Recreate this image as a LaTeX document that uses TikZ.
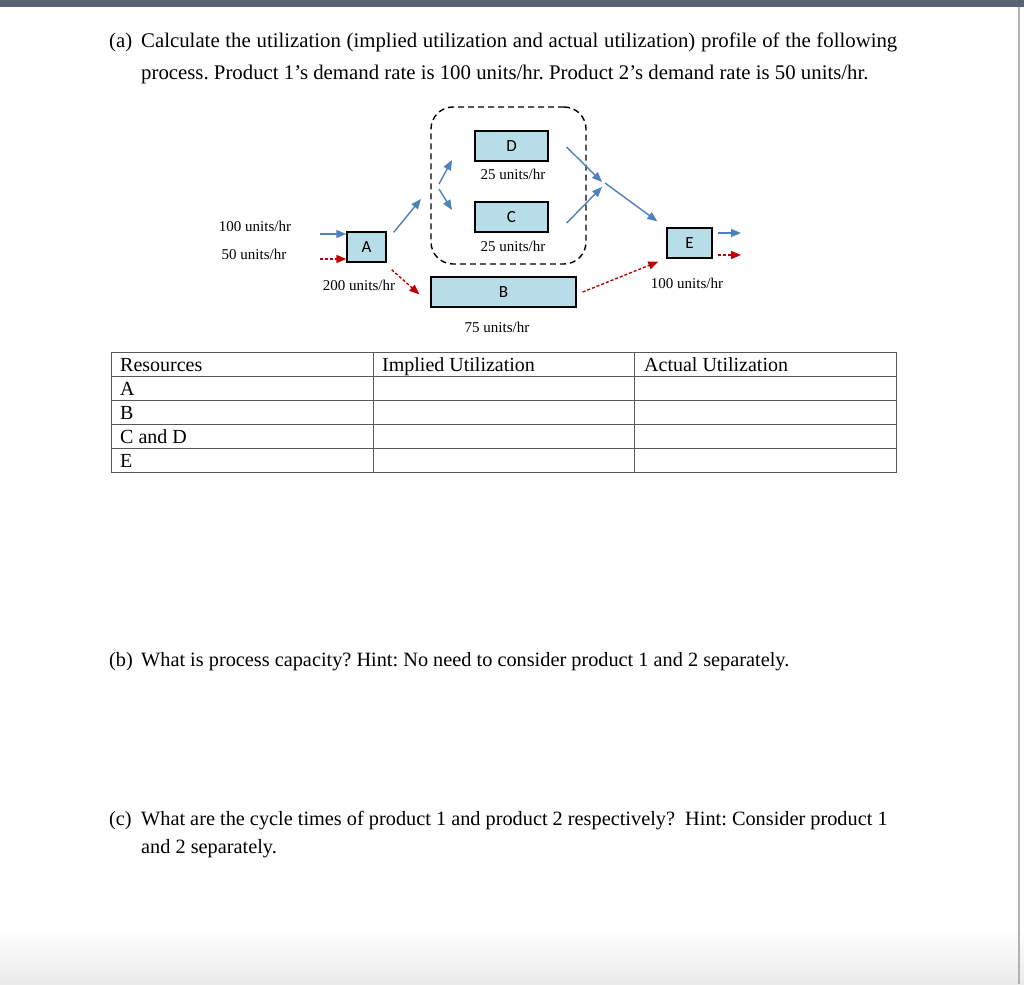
\documentclass[tikz,border=0pt]{standalone}
\usepackage{fontspec}
\setmainfont{Liberation Serif}
\newfontfamily\boxfont{Carlito}
\usetikzlibrary{arrows.meta,calc}
\definecolor{boxblue}{RGB}{183,221,232}
\definecolor{flowblue}{RGB}{79,129,189}
\definecolor{flowred}{RGB}{192,0,0}
\definecolor{barslate}{RGB}{88,100,116}
\frenchspacing
\newcommand{\bodysize}{\fontsize{20.8}{24}\selectfont}
\newcommand{\qsize}{\fontsize{20.3}{24}\selectfont}
\newcommand{\tabsize}{\fontsize{20}{24}\selectfont}
\newcommand{\ratesize}{\fontsize{15}{18}\selectfont}

\begin{document}
\begin{tikzpicture}[x=1pt,y=-1pt,
  stationbox/.style={draw, line width=1.3pt, fill=boxblue, inner sep=0pt,
    minimum height=30pt, font=\boxfont\fontsize{17}{18}\selectfont},
  groupbox/.style={draw, line width=1.4pt, dash pattern=on 6pt off 4pt,
    rounded corners=22pt, minimum width=155pt, minimum height=157pt},
  rate/.style={font=\ratesize, inner sep=0pt},
  body/.style={font=\bodysize, anchor=base west, inner sep=0pt},
  cell/.style={font=\tabsize, anchor=base west, inner sep=0pt},
  tableline/.style={draw=black!65, line width=1pt},
  flowone/.style={draw=flowblue, line width=1.4pt, -{Triangle[length=10pt,width=8pt]}},
  flowtwo/.style={draw=flowred, line width=1.4pt, dash pattern=on 3pt off 2pt,
    -{Triangle[length=10pt,width=8pt]}}]
\useasboundingbox (0,0) rectangle (1024,984);
\fill[white] (0,0) rectangle (1024,984);
\shade[top color=white, bottom color=black!8] (0,930) rectangle (1024,984);
\fill[barslate] (0,0) rectangle (1024,7);
\draw[black!30, line width=2pt] (1019,7) -- (1019,984);

\node[body] (qa) at (109,48) {(a)};
\node[body] (qa1) at (141,48) {\makebox[756pt][s]{Calculate the utilization (implied utilization and actual utilization) profile of the following}};
\node[body] (qa2) at (141,80) {process. Product 1's demand rate is 100 units/hr. Product 2's demand rate is 50 units/hr.};

\node[groupbox] (grp) at (508.5,185.5) {};
\node[stationbox, minimum width=39pt] (A) at (366.5,247) {A};
\node[stationbox, minimum width=73pt] (D) at (511.5,146) {D};
\node[stationbox, minimum width=73pt] (C) at (511.5,217) {C};
\node[stationbox, minimum width=145pt] (B) at (503.5,292) {B};
\node[stationbox, minimum width=45pt] (E) at (689.5,243) {E};

\node[rate] (rin1) at (255,226) {100 units/hr};
\node[rate] (rin2) at (254,254) {50 units/hr};
\node[rate] (rA) at (359,285) {200 units/hr};
\node[rate] (rD) at (513,174) {25 units/hr};
\node[rate] (rC) at (513,246) {25 units/hr};
\node[rate] (rB) at (497,327) {75 units/hr};
\node[rate] (rE) at (687,283) {100 units/hr};

\coordinate (in1) at (320,234);
\coordinate (in2) at (320,259);
\coordinate (out1) at (741,233);
\coordinate (out2) at (741,255);
\coordinate (split) at (421,199);
\coordinate (forkup) at (439,184);
\coordinate (forkdn) at (439,189);
\coordinate (merge) at (603,184);

\draw[flowone] (in1) -- (in1 -| A.west);
\draw[flowtwo] (in2) -- (in2 -| A.west);
\draw[flowone] ($(A.north east)+(7,1)$) -- (split);
\draw[flowone] (forkup) -- (452,160);
\draw[flowone] (forkdn) -- (452,210);
\draw[flowone] ($(D.east)+(18,1)$) -- ($(merge)+(-1,-2)$);
\draw[flowone] ($(C.east)+(18,6)$) -- ($(merge)+(-1,3)$);
\draw[flowone] ($(merge)+(2,-1)$) -- ($(E.north west)+(-9,-6)$);
\draw[flowtwo] ($(A.south east)+(5,7)$) -- ($(B.north west)+(-11,18)$);
\draw[flowtwo] ($(B.east)+(6,0)$) -- ($(E.south west)+(-8,3)$);
\draw[flowone] ($(E.east |- out1)+(5,0)$) -- (out1);
\draw[flowtwo] ($(E.east |- out2)+(5,0)$) -- (out2);

\draw[tableline] (111,352) rectangle (896,472);
\foreach \y in {376,400,424,448}
  \draw[tableline] (111,\y) -- (896,\y);
\draw[tableline] (373,352) -- (373,472);
\draw[tableline] (634,352) -- (634,472);
\node[cell] (hres) at (120,371) {Resources};
\node[cell] (himp) at (382,371) {Implied Utilization};
\node[cell] (hact) at (644,371) {Actual Utilization};
\node[cell] (ra) at (120,395) {A};
\node[cell] (rb) at (120,419) {B};
\node[cell] (rcd) at (120,443) {C and D};
\node[cell] (re) at (120,467) {E};

\node[body, font=\qsize] (qb) at (109,666) {(b)};
\node[body, font=\qsize] (qb1) at (141,666) {What is process capacity? Hint: No need to consider product 1 and 2 separately.};

\node[body, font=\qsize] (qc) at (109,825) {(c)};
\node[body, font=\qsize] (qc1) at (141,825) {What are the cycle times of product 1 and product 2 respectively?\ \ Hint: Consider product 1};
\node[body, font=\qsize] (qc2) at (141,853) {and 2 separately.};
\end{tikzpicture}
\end{document}
